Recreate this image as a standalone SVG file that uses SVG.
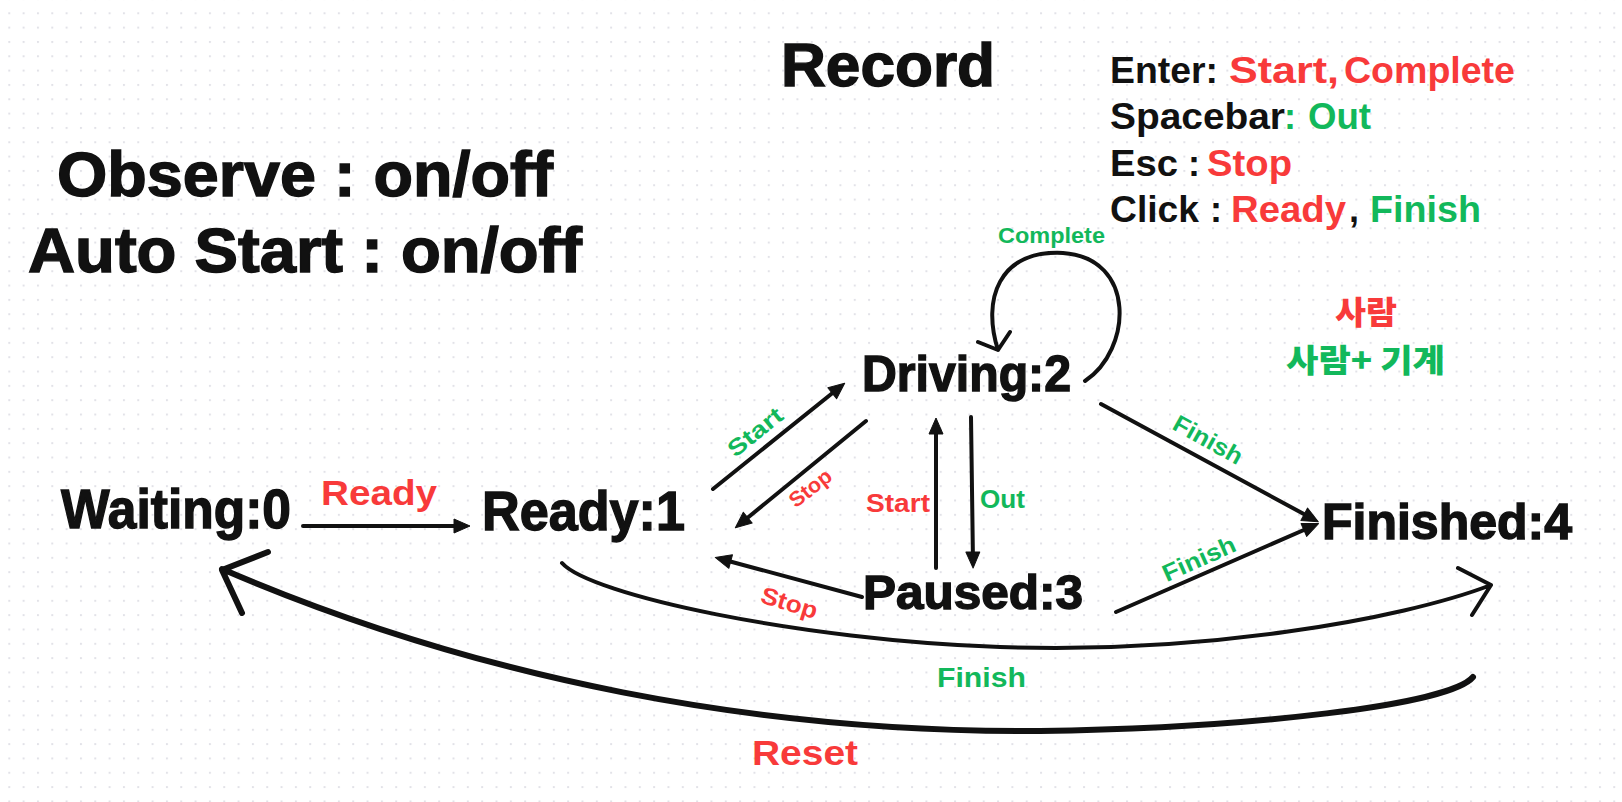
<svg xmlns="http://www.w3.org/2000/svg" width="1622" height="802" viewBox="0 0 1622 802">
<style>
.t{font-family:"Liberation Sans","Noto Sans CJK KR",sans-serif;font-weight:700}
.kr{font-family:"Noto Sans CJK KR","Liberation Sans",sans-serif;font-weight:900}
.k{fill:#111111}
.r{fill:#f83a3a}
.g{fill:#12b85b}
.big{stroke:#111111;stroke-width:1.4}
.ln{fill:none;stroke:#111111;stroke-width:4;stroke-linecap:round;stroke-linejoin:round}
.arr{marker-end:url(#tri)}
</style>
<defs>
<pattern id="dots" patternUnits="userSpaceOnUse" x="8.3" y="12.3" width="14.33" height="14.33">
<rect x="0" y="0" width="2" height="2" fill="#e2e2e8"/>
</pattern>
<marker id="tri" markerUnits="userSpaceOnUse" markerWidth="18" markerHeight="16" viewBox="0 0 18 16" refX="10" refY="8" orient="auto" overflow="visible">
<path d="M0,1 L16,8 L0,15 Z" fill="#111111" stroke="#111111" stroke-width="1" stroke-linejoin="round"/>
</marker>
</defs>
<rect width="1622" height="802" fill="#ffffff"/>
<rect width="1622" height="802" fill="url(#dots)"/>

<g id="title">
<text class="t k big" x="781" y="86" font-size="61" textLength="214" lengthAdjust="spacingAndGlyphs">Record</text>
</g>

<g id="options">
<text class="t k big" x="57" y="196" font-size="63" textLength="496" lengthAdjust="spacingAndGlyphs">Observe : on/off</text>
<text class="t k big" x="28" y="272" font-size="63" textLength="554" lengthAdjust="spacingAndGlyphs">Auto Start : on/off</text>
</g>

<g id="legend">
<text class="t k" x="1110" y="83" font-size="36" textLength="108" lengthAdjust="spacingAndGlyphs">Enter:</text>
<text class="t r" x="1229" y="83" font-size="36" textLength="110" lengthAdjust="spacingAndGlyphs">Start,</text>
<text class="t r" x="1344" y="83" font-size="36" textLength="171" lengthAdjust="spacingAndGlyphs">Complete</text>
<text class="t k" x="1110" y="129" font-size="36" textLength="175" lengthAdjust="spacingAndGlyphs">Spacebar</text>
<text class="t g" x="1284" y="129" font-size="36">:</text>
<text class="t g" x="1308" y="129" font-size="36" textLength="63" lengthAdjust="spacingAndGlyphs">Out</text>
<text class="t k" x="1110" y="176" font-size="36" textLength="68" lengthAdjust="spacingAndGlyphs">Esc</text>
<text class="t k" x="1188" y="176" font-size="36">:</text>
<text class="t r" x="1207" y="176" font-size="36" textLength="85" lengthAdjust="spacingAndGlyphs">Stop</text>
<text class="t k" x="1110" y="222" font-size="36" textLength="89" lengthAdjust="spacingAndGlyphs">Click</text>
<text class="t k" x="1210" y="222" font-size="36">:</text>
<text class="t r" x="1231" y="222" font-size="36" textLength="115" lengthAdjust="spacingAndGlyphs">Ready</text>
<text class="t k" x="1349" y="222" font-size="36">,</text>
<text class="t g" x="1370" y="222" font-size="36" textLength="111" lengthAdjust="spacingAndGlyphs">Finish</text>
</g>

<g id="actors">
<text class="kr r" x="1335" y="324" font-size="32" textLength="62" lengthAdjust="spacingAndGlyphs">사람</text>
<text class="kr g" x="1286" y="372" font-size="32" textLength="159" lengthAdjust="spacingAndGlyphs">사람+ 기계</text>
</g>

<g id="connectors">
<path class="ln arr" d="M303 526 L464 526"/>
<path class="ln arr" d="M713 489 L840 387"/>
<path class="ln arr" d="M866 421 L740 524"/>
<path class="ln arr" d="M936 568 L936 424"/>
<path class="ln arr" d="M971 417 L973 562"/>
<path class="ln arr" d="M862 597 L721 559"/>
<path class="ln arr" d="M1101 404 L1313 519"/>
<path class="ln arr" d="M1116 612 L1313 526"/>
<path class="ln" d="M1085 381 C1132 350 1137 258 1063 253 C998 250 982 300 998 350 M978 342 L998 350 L1010 332"/>
<path class="ln" d="M562 563 C590 595 800 640 1000 647 S1400 620 1491 585 M1458 568 L1491 585 L1472 615"/>
<path class="ln" style="stroke-width:6" d="M1473 677 C1450 705 1250 728 1040 731 C760 733 480 680 222 569 M268 552 L222 570 L242 613"/>
</g>

<g id="edge-labels">
<text class="t r" x="321" y="505" font-size="35" textLength="116" lengthAdjust="spacingAndGlyphs">Ready</text>
<text class="t g" transform="translate(755,432) rotate(-39)" x="-32" y="8" font-size="23" textLength="64" lengthAdjust="spacingAndGlyphs">Start</text>
<text class="t r" transform="translate(811,489) rotate(-38)" x="-24" y="6" font-size="21" textLength="48" lengthAdjust="spacingAndGlyphs">Stop</text>
<text class="t r" x="866" y="512" font-size="26" textLength="64" lengthAdjust="spacingAndGlyphs">Start</text>
<text class="t g" x="980" y="508" font-size="26" textLength="45" lengthAdjust="spacingAndGlyphs">Out</text>
<text class="t r" transform="translate(789,604) rotate(17)" x="-29" y="7" font-size="24" textLength="58" lengthAdjust="spacingAndGlyphs">Stop</text>
<text class="t g" transform="translate(1208,440) rotate(29)" x="-38" y="8" font-size="24" textLength="76" lengthAdjust="spacingAndGlyphs">Finish</text>
<text class="t g" transform="translate(1199,559) rotate(-24)" x="-39" y="8" font-size="24" textLength="78" lengthAdjust="spacingAndGlyphs">Finish</text>
<text class="t g" x="998" y="243" font-size="22" textLength="107" lengthAdjust="spacingAndGlyphs">Complete</text>
<text class="t g" x="937" y="687" font-size="27" textLength="89" lengthAdjust="spacingAndGlyphs">Finish</text>
<text class="t r" x="752" y="765" font-size="35" textLength="106" lengthAdjust="spacingAndGlyphs">Reset</text>
</g>

<g id="node-waiting">
<text class="t k big" x="61" y="528" font-size="56" textLength="230" lengthAdjust="spacingAndGlyphs">Waiting:0</text>
</g>
<g id="node-ready">
<text class="t k big" x="482" y="530" font-size="56" textLength="203" lengthAdjust="spacingAndGlyphs">Ready:1</text>
</g>
<g id="node-driving">
<text class="t k big" x="862" y="391" font-size="50" textLength="209" lengthAdjust="spacingAndGlyphs">Driving:2</text>
</g>
<g id="node-paused">
<text class="t k big" x="863" y="609" font-size="48" textLength="220" lengthAdjust="spacingAndGlyphs">Paused:3</text>
</g>
<g id="node-finished">
<text class="t k big" x="1322" y="539" font-size="50" textLength="250" lengthAdjust="spacingAndGlyphs">Finished:4</text>
</g>
</svg>
